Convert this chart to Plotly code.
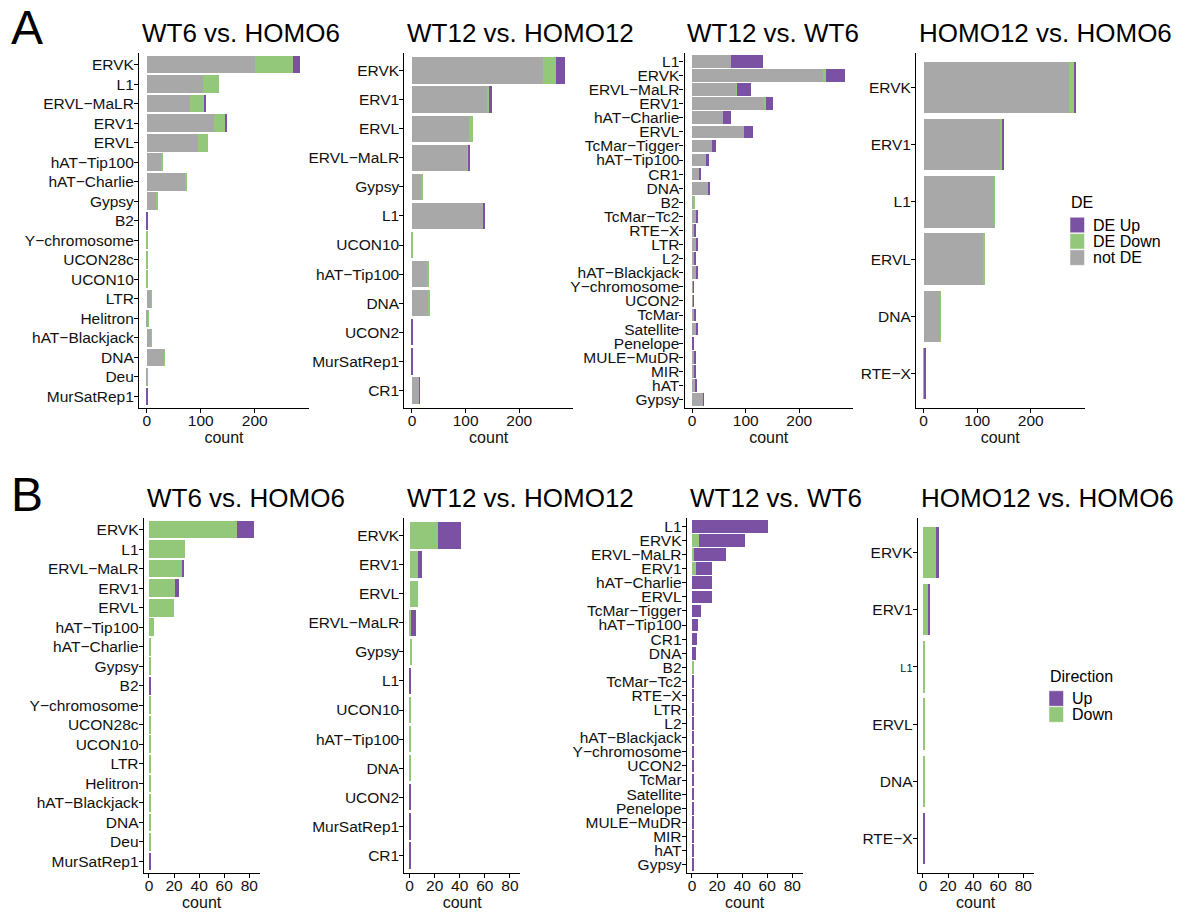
import plotly.graph_objects as go

W, H = 1195, 913

# ---------------- data ----------------
titles = ["WT6 vs. HOMO6", "WT12 vs. HOMO12", "WT12 vs. WT6", "HOMO12 vs. HOMO6"]

cats_1 = ["ERVK", "L1", "ERVL-MaLR", "ERV1", "ERVL", "hAT-Tip100", "hAT-Charlie", "Gypsy", "B2",
          "Y-chromosome", "UCON28c", "UCON10", "LTR", "Helitron", "hAT-Blackjack", "DNA", "Deu", "MurSatRep1"]
notde_1 = [200, 105, 80, 125, 94, 27, 72, 19, 0, 0, 0, 0, 8, 3, 8, 32, 1, 0]
down_1 = [70, 29, 26, 21, 20, 4, 2, 2, 0, 1, 1, 1, 1, 1, 1, 1, 1, 0]
up_1 = [14, 0, 2, 3, 0, 0, 0, 0, 2, 0, 0, 0, 0, 0, 0, 0, 0, 1]

cats_2 = ["ERVK", "ERV1", "ERVL", "ERVL-MaLR", "Gypsy", "L1", "UCON10", "hAT-Tip100", "DNA",
          "UCON2", "MurSatRep1", "CR1"]
notde_2 = [245, 139, 107, 104, 19, 134, 0, 30, 32, 0, 0, 14]
down_2 = [23, 7, 7, 1, 2, 0, 1, 1, 1, 0, 0, 0]
up_2 = [18, 3, 0, 4, 0, 1, 0, 0, 0, 1, 1, 1]

cats_3 = ["L1", "ERVK", "ERVL-MaLR", "ERV1", "hAT-Charlie", "ERVL", "TcMar-Tigger", "hAT-Tip100", "CR1",
          "DNA", "B2", "TcMar-Tc2", "RTE-X", "LTR", "L2", "hAT-Blackjack", "Y-chromosome", "UCON2",
          "TcMar", "Satellite", "Penelope", "MULE-MuDR", "MIR", "hAT", "Gypsy"]
notde_3 = [72, 244, 82, 134, 57, 97, 37, 26, 12, 30, 2, 7, 3, 7, 3, 7, 1, 1, 4, 8, 0, 4, 4, 6, 20]
down_3 = [0, 6, 2, 3, 0, 0, 0, 0, 0, 0, 2, 0, 0, 0, 0, 0, 0, 0, 0, 0, 0, 0, 0, 0, 0]
up_3 = [61, 36, 25, 13, 16, 16, 7, 5, 4, 3, 0, 2, 2, 2, 2, 2, 1, 1, 1, 1, 1, 1, 1, 1, 1]

cats_4 = ["ERVK", "ERV1", "L1", "ERVL", "DNA", "RTE-X"]
notde_4 = [271, 143, 132, 112, 31, 2]
down_4 = [10, 4, 1, 1, 1, 0]
up_4 = [3, 2, 0, 0, 0, 1]

x_ticks_A = [0, 100, 200]
x_ticks_B = [0, 20, 40, 60, 80]

legend_A_title = "DE"
legend_A_labels = ["DE Up", "DE Down", "not DE"]
legend_B_title = "Direction"
legend_B_labels = ["Up", "Down"]

panels = [
    (cats_1, notde_1, down_1, up_1),
    (cats_2, notde_2, down_2, up_2),
    (cats_3, notde_3, down_3, up_3),
    (cats_4, notde_4, down_4, up_4),
]

# ---------------- style ----------------
C_UP = "#7B52A3"
C_DOWN = "#93C87A"
C_NOT = "#A8A8A8"
FONT = "Liberation Sans, Arial, Helvetica, sans-serif"

def px(x):
    return x / W

def py(y):
    return 1 - y / H

domA_x = [(139, 309), (404.3, 573), (684.5, 853), (916, 1084.5)]
domA_y = (53, 408)
domB_x = [(143.7, 259.6), (404.3, 520.2), (686.7, 802.6), (917.7, 1033.6)]
domB_y = (518, 873)

maxA = max(max(n + d + u for n, d, u in zip(p[1], p[2], p[3])) for p in panels)
maxB = max(max(d + u for d, u in zip(p[2], p[3])) for p in panels)
rangeA = [-0.05 * maxA, 1.05 * maxA]
rangeB = [-0.05 * maxB, 1.05 * maxB]

fig = go.Figure()
layout = {}
annotations = []
shapes = []

def label(c, small=False):
    t = c.replace("-", "\u2212")
    if small:
        t = "<span style='font-size:11px'>" + t + "</span>"
    return t

BAR_LINE = dict(color="white", width=0)

for i, (cats, notde, down, up) in enumerate(panels):
    # ---- panel A ----
    k = i + 1
    xa, ya = f"x{k}", f"y{k}"
    for name, vals, col in [("not DE", notde, C_NOT), ("DE Down", down, C_DOWN), ("DE Up", up, C_UP)]:
        fig.add_trace(go.Bar(
            y=cats, x=vals, orientation="h", name=name, marker=dict(color=col, line=BAR_LINE),
            width=0.9, xaxis=xa, yaxis=ya, showlegend=False,
        ))
    # ---- panel B ----
    kb = i + 5
    xb, yb = f"x{kb}", f"y{kb}"
    for name, vals, col in [("Down", down, C_DOWN), ("Up", up, C_UP)]:
        fig.add_trace(go.Bar(
            y=cats, x=vals, orientation="h", name=name, marker=dict(color=col, line=BAR_LINE),
            width=0.9, xaxis=xb, yaxis=yb, showlegend=False,
        ))

    n = len(cats)
    common_x = dict(showline=True, linecolor="black", linewidth=1.1, ticks="outside", ticklen=4,
                    tickcolor="black", tickwidth=1.1, showgrid=False, zeroline=False,
                    ticklabelstandoff=-6,
                    tickfont=dict(size=15.5, color="#111", family=FONT),
                    title=dict(text="count", font=dict(size=16, color="#111", family=FONT), standoff=0))
    common_y = dict(showline=True, linecolor="black", linewidth=1.1, ticks="outside", ticklen=4,
                    tickcolor="black", tickwidth=1.1, showgrid=False, zeroline=False, type="category",
                    categoryorder="array", categoryarray=cats, range=[n - 0.4, -0.6],
                    ticklabelstandoff=-3,
                    tickfont=dict(size=15.5, color="#111", family=FONT), tickvals=cats)

    layout[f"xaxis{k}"] = dict(common_x, domain=[px(domA_x[i][0]), px(domA_x[i][1])], anchor=ya,
                               range=rangeA, tickvals=x_ticks_A)
    layout[f"yaxis{k}"] = dict(common_y, domain=[py(domA_y[1]), py(domA_y[0])], anchor=xa,
                               ticktext=[label(c) for c in cats])
    layout[f"xaxis{kb}"] = dict(common_x, domain=[px(domB_x[i][0]), px(domB_x[i][1])], anchor=yb,
                                range=rangeB, tickvals=x_ticks_B)
    small = (i == 3)
    layout[f"yaxis{kb}"] = dict(common_y, domain=[py(domB_y[1]), py(domB_y[0])], anchor=xb,
                                ticktext=[label(c, small and c == "L1") for c in cats])

    annotations.append(dict(text=titles[i], x=px(domA_x[i][0] + 1), y=py(33), xref="paper", yref="paper",
                            xanchor="left", yanchor="middle", showarrow=False,
                            font=dict(size=26, color="black", family=FONT)))
    annotations.append(dict(text=titles[i], x=px(domB_x[i][0] + 1), y=py(498), xref="paper", yref="paper",
                            xanchor="left", yanchor="middle", showarrow=False,
                            font=dict(size=26, color="black", family=FONT)))

for t, yy in [("A", 27), ("B", 494)]:
    annotations.append(dict(text=t, x=px(9), y=py(yy), xref="paper", yref="paper", xanchor="left",
                            yanchor="middle", showarrow=False, font=dict(size=48, color="black", family=FONT)))

# ---- legends (keys + labels) ----
def add_legend(title, labels, colors, x0, title_y, first_row_y, row_h, key_w, key_h, text_x):
    annotations.append(dict(text=title, x=px(x0 - 1), y=py(title_y), xref="paper", yref="paper",
                            xanchor="left", yanchor="middle", showarrow=False,
                            font=dict(size=16, color="black", family=FONT)))
    for j, (lab, col) in enumerate(zip(labels, colors)):
        cy = first_row_y + j * row_h
        shapes.append(dict(type="rect", xref="paper", yref="paper",
                           x0=px(x0), x1=px(x0 + key_w), y0=py(cy + key_h / 2), y1=py(cy - key_h / 2),
                           fillcolor=col, line=dict(color="white", width=0.5)))
        annotations.append(dict(text=lab, x=px(text_x), y=py(cy), xref="paper", yref="paper",
                                xanchor="left", yanchor="middle", showarrow=False,
                                font=dict(size=16, color="black", family=FONT)))

add_legend(legend_A_title, legend_A_labels, [C_UP, C_DOWN, C_NOT], 1070, 203, 225, 16.3, 14.5, 15.5, 1091)
add_legend(legend_B_title, legend_B_labels, [C_UP, C_DOWN], 1049, 676, 698.5, 16.0, 14.5, 15.5, 1070)

fig.update_layout(
    **layout,
    annotations=annotations,
    shapes=shapes,
    barmode="stack",
    width=W, height=H,
    margin=dict(l=0, r=0, t=0, b=0),
    paper_bgcolor="white", plot_bgcolor="white",
    font=dict(family=FONT, color="black"),
    showlegend=False,
)

fig.write_html("out.html", config={"displayModeBar": False},
               post_script="document.body.style.margin='0px';")
